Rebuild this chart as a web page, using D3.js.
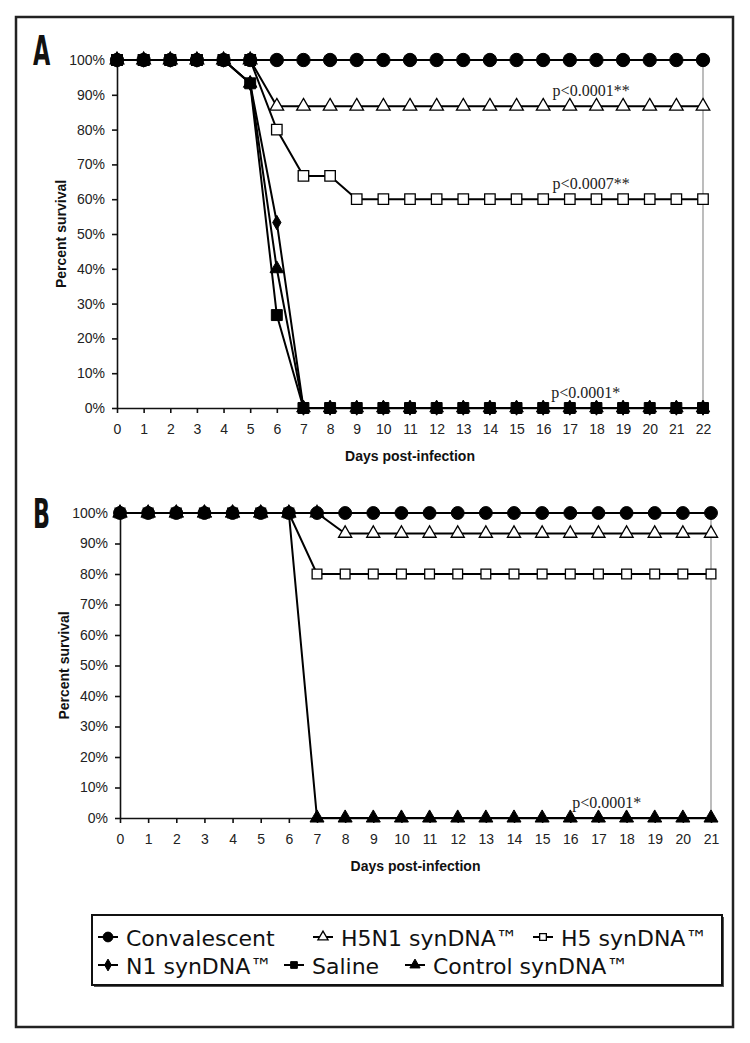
<!DOCTYPE html>
<html lang="en">
<head>
<meta charset="UTF-8">
<title>Survival curves</title>
<script src="https://d3js.org/d3.v7.min.js"></script>
<style>
  body { margin: 0; background: #fff; }
  .tick text { font-family: Arial, "Liberation Sans", sans-serif; font-size: 14px; fill: #222; }
  .axis path, .axis line { stroke: #111; stroke-width: 1.6px; }
  .axis-title { font-family: Arial, "Liberation Sans", sans-serif; font-size: 14px; font-weight: bold; fill: #111; }
  .pval { font-family: "Liberation Serif", "Times New Roman", serif; font-size: 16px; fill: #222; }
  .panel-letter { font-family: "Liberation Sans Narrow", "DejaVu Sans Condensed", sans-serif; font-weight: bold; font-size: 40px; fill: #111; }
  .legend text { font-family: "DejaVu Sans", Verdana, sans-serif; font-size: 22px; fill: #111; }
</style>
</head>
<body>
<script>
// ---- data (percent survival per day) ----
var daysA = [0,1,2,3,4,5,6,7,8,9,10,11,12,13,14,15,16,17,18,19,20,21,22];
var convA    = [100,100,100,100,100,100,100,100,100,100,100,100,100,100,100,100,100,100,100,100,100,100,100];
var h5n1A    = [100,100,100,100,100,100,86.7,86.7,86.7,86.7,86.7,86.7,86.7,86.7,86.7,86.7,86.7,86.7,86.7,86.7,86.7,86.7,86.7];
var h5A      = [100,100,100,100,100,100,80,66.7,66.7,60,60,60,60,60,60,60,60,60,60,60,60,60,60];
var n1A      = [100,100,100,100,100,93.3,53.3,0,0,0,0,0,0,0,0,0,0,0,0,0,0,0,0];
var salineA  = [100,100,100,100,100,93.3,26.7,0,0,0,0,0,0,0,0,0,0,0,0,0,0,0,0];
var controlA = [100,100,100,100,100,93.3,40,0,0,0,0,0,0,0,0,0,0,0,0,0,0,0,0];

var daysB = [0,1,2,3,4,5,6,7,8,9,10,11,12,13,14,15,16,17,18,19,20,21];
var convB    = [100,100,100,100,100,100,100,100,100,100,100,100,100,100,100,100,100,100,100,100,100,100];
var h5n1B    = [100,100,100,100,100,100,100,100,93.3,93.3,93.3,93.3,93.3,93.3,93.3,93.3,93.3,93.3,93.3,93.3,93.3,93.3];
var h5B      = [100,100,100,100,100,100,100,80,80,80,80,80,80,80,80,80,80,80,80,80,80,80];
var controlB = [100,100,100,100,100,100,100,0,0,0,0,0,0,0,0,0,0,0,0,0,0,0];

var yTicks = [0,10,20,30,40,50,60,70,80,90,100];

var pLabelsA = [
  { text: "p<0.0001**", day: 17.8, value: 86.7 },
  { text: "p<0.0007**", day: 17.8, value: 60 },
  { text: "p<0.0001*",  day: 17.6, value: 0 }
];
var pLabelsB = [
  { text: "p<0.0001*", day: 17.3, value: 0 }
];

var legendRows = [
  [ { name: "Convalescent", type: "circle", filled: true },
    { name: "H5N1 synDNA\u2122", type: "triangle", filled: false },
    { name: "H5 synDNA\u2122", type: "square", filled: false } ],
  [ { name: "N1 synDNA\u2122", type: "diamond", filled: true },
    { name: "Saline", type: "square", filled: true },
    { name: "Control synDNA\u2122", type: "triangle", filled: true } ]
];

var W = 750, H = 1043;
var svg = d3.select("body").append("svg").attr("width", W).attr("height", H);

// outer frame
svg.append("rect").attr("x", 16).attr("y", 17).attr("width", 717).attr("height", 1010)
  .attr("fill", "none").attr("stroke", "#222").attr("stroke-width", 2.5);

var symbolTypes = {
  circle: d3.symbolCircle,
  triangle: d3.symbolTriangle,
  square: d3.symbolSquare,
  diamond: d3.symbolDiamond
};

function marker(g, type, filled, size) {
  return g.append("path")
    .attr("d", d3.symbol().type(symbolTypes[type]).size(size)())
    .attr("fill", filled ? "#000" : "#fff")
    .attr("stroke", "#000")
    .attr("stroke-width", filled ? 1 : 1.3);
}

function drawPanel(p) {
  var x = d3.scaleLinear().domain([0, p.days[p.days.length - 1]]).range([p.left, p.right]);
  var y = d3.scaleLinear().domain([0, 100]).range([p.bottom, p.top]);
  var g = svg.append("g");

  // grey line at the last day
  g.append("line")
    .attr("x1", x(p.days[p.days.length - 1])).attr("x2", x(p.days[p.days.length - 1]))
    .attr("y1", y(0)).attr("y2", y(100))
    .attr("stroke", "#999").attr("stroke-width", 1.3);

  g.append("g").attr("class", "axis")
    .attr("transform", "translate(0," + y(0) + ")")
    .call(d3.axisBottom(x).tickValues(p.days).tickSize(5).tickSizeOuter(0).tickPadding(11));

  g.append("g").attr("class", "axis")
    .attr("transform", "translate(" + x(0) + ",0)")
    .call(d3.axisLeft(y).tickValues(yTicks).tickSize(5).tickSizeOuter(0).tickPadding(7)
      .tickFormat(function(d) { return d + "%"; }));

  g.append("text").attr("class", "axis-title")
    .attr("x", (p.left + p.right) / 2).attr("y", p.bottom + 53)
    .attr("text-anchor", "middle").text("Days post-infection");

  g.append("text").attr("class", "axis-title")
    .attr("transform", "translate(" + (p.left - 51) + "," + ((p.top + p.bottom) / 2) + ") rotate(-90)")
    .attr("text-anchor", "middle").text("Percent survival");

  g.append("text").attr("class", "panel-letter")
    .attr("transform", "translate(33," + (p.top + p.letterShift) + ") scale(0.62,1)")
    .attr("dy", "0.35em")
    .text(p.letter);

  var line = d3.line().x(function(d, i) { return x(p.days[i]); }).y(function(d) { return y(d); });

  p.series.forEach(function(s) {
    g.append("path").attr("d", line(s.values))
      .attr("fill", "none").attr("stroke", "#000").attr("stroke-width", 2);
  });
  p.series.forEach(function(s) {
    s.values.forEach(function(v, i) {
      marker(g, s.type, s.filled, s.size)
        .attr("transform", "translate(" + x(p.days[i]) + "," + y(v) + ")");
    });
  });

  p.pLabels.forEach(function(l) {
    g.append("text").attr("class", "pval")
      .attr("x", x(l.day)).attr("y", y(l.value) - 10)
      .attr("text-anchor", "middle").text(l.text);
  });
}

drawPanel({
  letter: "A", letterShift: -9, days: daysA, left: 117, right: 703, top: 60, bottom: 408,
  pLabels: pLabelsA,
  series: [
    { values: h5n1A, type: "triangle", filled: false, size: 80 },
    { values: h5A, type: "square", filled: false, size: 110 },
    { values: n1A, type: "diamond", filled: true, size: 60 },
    { values: controlA, type: "triangle", filled: true, size: 80 },
    { values: convA, type: "circle", filled: true, size: 140 },
    { values: salineA, type: "square", filled: true, size: 120 }
  ]
});

drawPanel({
  letter: "B", letterShift: 1, days: daysB, left: 120, right: 711, top: 513, bottom: 818,
  pLabels: pLabelsB,
  series: [
    { values: h5n1B, type: "triangle", filled: false, size: 75 },
    { values: h5B, type: "square", filled: false, size: 95 },
    { values: convB, type: "circle", filled: true, size: 130 },
    { values: controlB, type: "triangle", filled: true, size: 85 }
  ]
});

// legend
var leg = svg.append("g").attr("class", "legend");
leg.append("rect").attr("x", 94).attr("y", 917).attr("width", 630).attr("height", 70)
  .attr("fill", "#555");
leg.append("rect").attr("x", 92).attr("y", 915).attr("width", 630).attr("height", 70)
  .attr("fill", "#fff").attr("stroke", "#111").attr("stroke-width", 2);

// left edge of each legend entry (marker line start)
var colX = [[98, 313, 533], [98, 284, 405]];
legendRows.forEach(function(row, r) {
  var cy = 937 + r * 28;
  row.forEach(function(item, c) {
    var x0 = colX[r][c];
    var gi = leg.append("g").attr("transform", "translate(" + x0 + "," + cy + ")");
    gi.append("line").attr("x1", 0).attr("x2", 20).attr("y1", 0).attr("y2", 0)
      .attr("stroke", "#000").attr("stroke-width", 2);
    var sz = item.type === "circle" ? 75 : item.type === "diamond" ? 40 : 45;
    marker(gi, item.type, item.filled, sz).attr("transform", "translate(10,0)");
    gi.append("text").attr("x", 28).attr("y", 1).attr("dy", "0.35em").text(item.name);
  });
});
</script>
</body>
</html>
